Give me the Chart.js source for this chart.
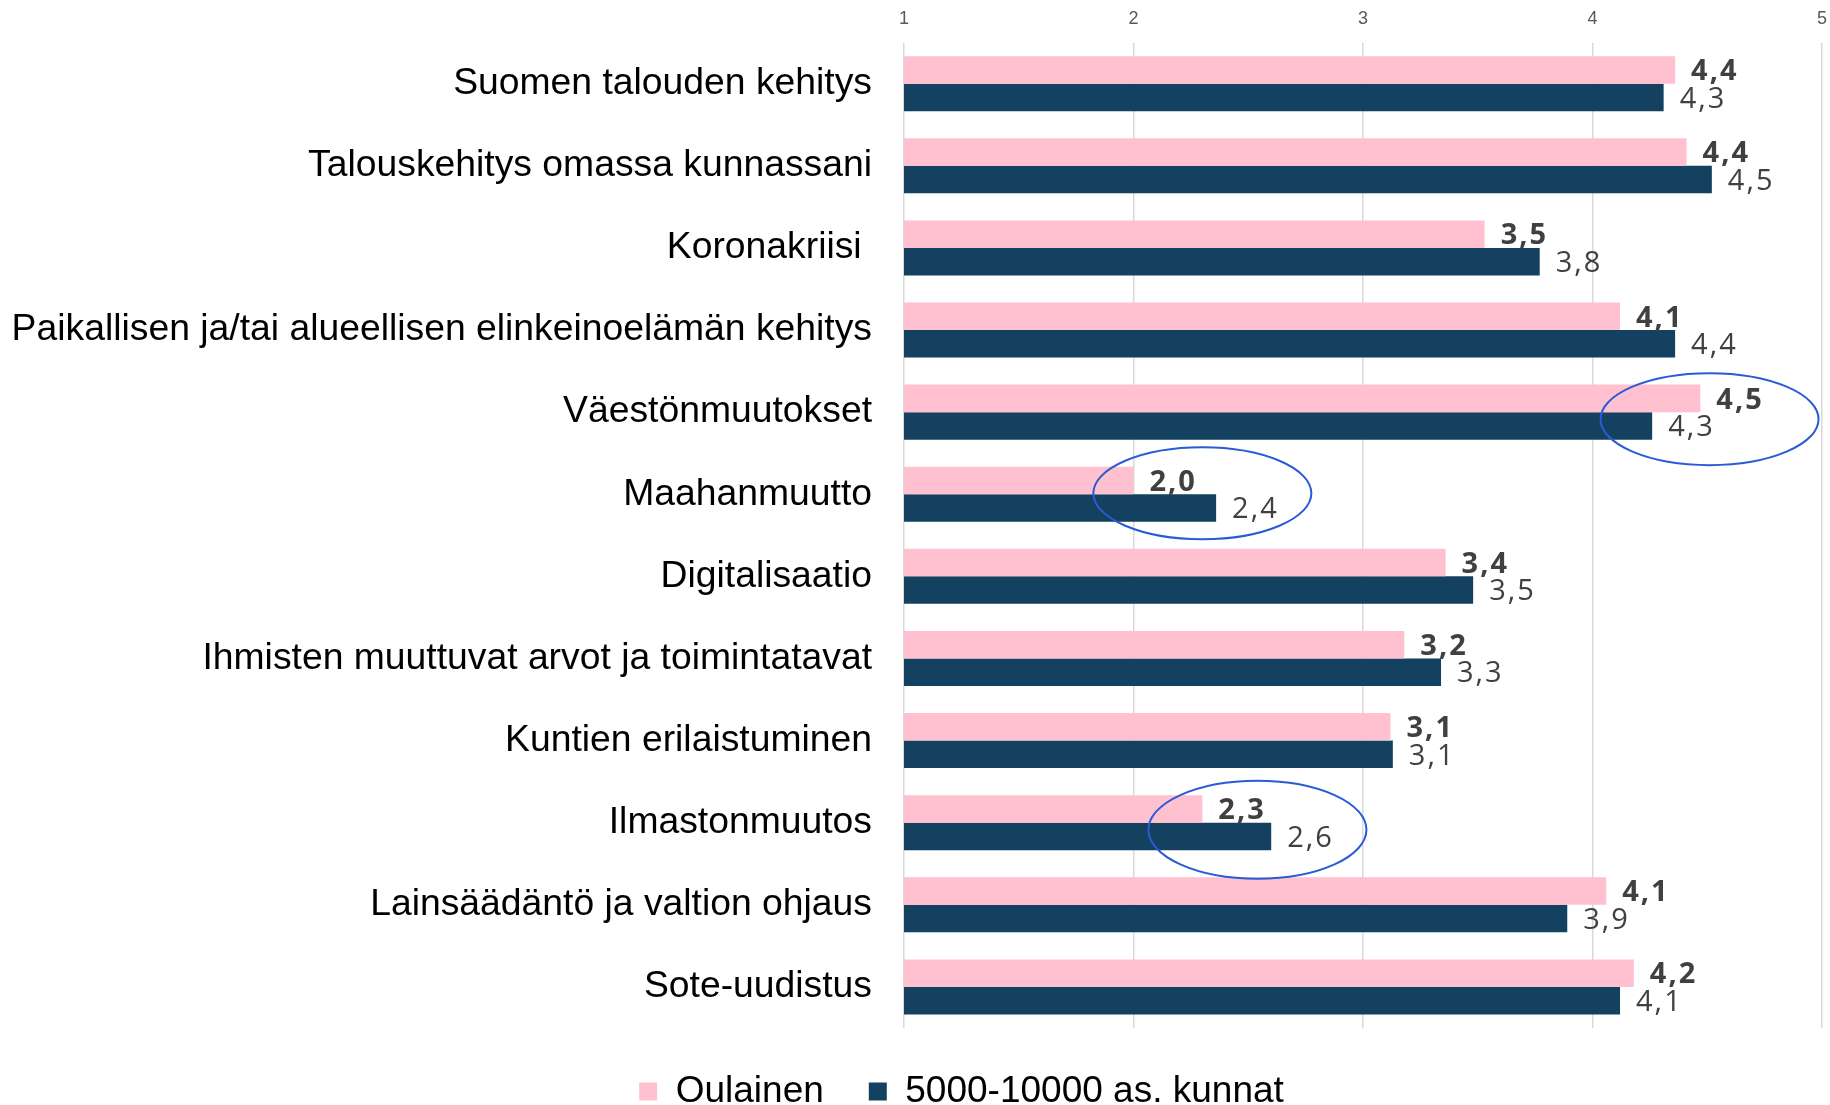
<!DOCTYPE html>
<html>
<head>
<meta charset="utf-8">
<script src="https://cdn.jsdelivr.net/npm/chart.js@4.4.0/dist/chart.umd.min.js"></script>
<style>
html,body{margin:0;padding:0;background:#ffffff;}
#wrap{width:1830px;height:1105px;position:relative;}
</style>
</head>
<body>
<div id="wrap"><canvas id="c" width="1830" height="1105"></canvas></div>
<script>
// ---------- data ----------
const categories = [
  'Suomen talouden kehitys',
  'Talouskehitys omassa kunnassani',
  'Koronakriisi ',
  'Paikallisen ja/tai alueellisen elinkeinoelämän kehitys',
  'Väestönmuutokset',
  'Maahanmuutto',
  'Digitalisaatio',
  'Ihmisten muuttuvat arvot ja toimintatavat',
  'Kuntien erilaistuminen',
  'Ilmastonmuutos',
  'Lainsäädäntö ja valtion ohjaus',
  'Sote-uudistus'
];
const seriesNames = ['Oulainen', '5000-10000 as. kunnat'];
const oulainen = [4.36, 4.41, 3.53, 4.12, 4.47, 2.00, 3.36, 3.18, 3.12, 2.30, 4.06, 4.18];
const kunnat   = [4.31, 4.52, 3.77, 4.36, 4.26, 2.36, 3.48, 3.34, 3.13, 2.60, 3.89, 4.12];
const xTickValues = [1, 2, 3, 4, 5];
// highlighted rows (circled in the original)
const circledRows = ['Väestönmuutokset', 'Maahanmuutto', 'Ilmastonmuutos'];
const circledAt   = [4.51, 2.30, 2.54];

// ---------- styling ----------
const COLORS = ['#FFC1CF', '#13415F'];
const ellipseStyle = [
  {rx: 109, ry: 46, dy: 7},
  {rx: 109, ry: 46, dy: -1},
  {rx: 109, ry: 49, dy: 7}
];

const valueLabelPlugin = {
  id: 'valueLabels',
  afterDatasetsDraw(chart) {
    const ctx = chart.ctx;
    ctx.save();
    ctx.textAlign = 'left';
    ctx.textBaseline = 'middle';
    ctx.fillStyle = '#404040';
    try { ctx.letterSpacing = '2px'; } catch (e) {}
    chart.data.datasets.forEach((ds, di) => {
      const meta = chart.getDatasetMeta(di);
      ctx.font = (di === 0 ? '700 ' : '400 ') + '29px "Open Sans", "DejaVu Sans", sans-serif';
      meta.data.forEach((bar, i) => {
        const txt = ds.data[i].toFixed(1).replace('.', ',');
        ctx.fillText(txt, bar.x + 16, bar.y + 2);
      });
    });
    ctx.restore();
  }
};

const ellipsePlugin = {
  id: 'circles',
  afterDatasetsDraw(chart) {
    const {ctx, scales} = chart;
    ctx.save();
    ctx.strokeStyle = '#2A5BD7';
    ctx.lineWidth = 2;
    circledRows.forEach((row, k) => {
      const st = ellipseStyle[k];
      const cx = scales.x.getPixelForValue(circledAt[k]);
      const cy = scales.y.getPixelForValue(categories.indexOf(row)) + st.dy;
      ctx.beginPath();
      ctx.ellipse(cx, cy, st.rx, st.ry, 0, 0, Math.PI * 2);
      ctx.stroke();
    });
    ctx.restore();
  }
};

const legendShiftPlugin = {
  id: 'legendShift',
  afterLayout(chart) {
    if (chart.legend) chart.legend.left += 101;
  }
};

const AXIS_LEFT = 904;

new Chart(document.getElementById('c'), {
  type: 'bar',
  data: {
    labels: categories,
    datasets: [
      {label: seriesNames[0], data: oulainen, backgroundColor: COLORS[0], borderWidth: 0,
       barPercentage: 1.0, categoryPercentage: 0.67},
      {label: seriesNames[1], data: kunnat, backgroundColor: COLORS[1], borderWidth: 0,
       barPercentage: 1.0, categoryPercentage: 0.67}
    ]
  },
  options: {
    indexAxis: 'y',
    responsive: false,
    animation: false,
    devicePixelRatio: 1,
    layout: {padding: {left: 0, right: 8, top: -5, bottom: -15}},
    scales: {
      x: {
        position: 'top',
        min: 1, max: 5,
        afterBuildTicks(scale) { scale.ticks = xTickValues.map(v => ({value: v})); },
        afterFit(scale) { scale.paddingLeft = 0; scale.paddingRight = 0; },
        grid: {color: '#D9D9D9', lineWidth: 1.5, drawTicks: false},
        border: {display: false},
        ticks: {
          padding: 13,
          color: '#595959',
          font: {family: '"Liberation Sans", Arial, sans-serif', size: 18},
          callback: v => String(v)
        }
      },
      y: {
        grid: {display: false, drawTicks: false},
        border: {display: false},
        afterFit(scale) { scale.width = AXIS_LEFT; scale.paddingTop = 0; scale.paddingBottom = 0; },
        ticks: {
          padding: 32,
          color: '#000000',
          font: {family: '"Liberation Sans", Arial, sans-serif', size: 37.3}
        }
      }
    },
    plugins: {
      legend: {
        position: 'bottom',
        align: 'center',
        labels: {
          boxWidth: 18, boxHeight: 18, padding: 45,
          color: '#000000',
          font: {family: '"Liberation Sans", Arial, sans-serif', size: 37}
        }
      },
      tooltip: {enabled: false}
    }
  },
  plugins: [valueLabelPlugin, ellipsePlugin, legendShiftPlugin]
});
</script>
</body>
</html>
